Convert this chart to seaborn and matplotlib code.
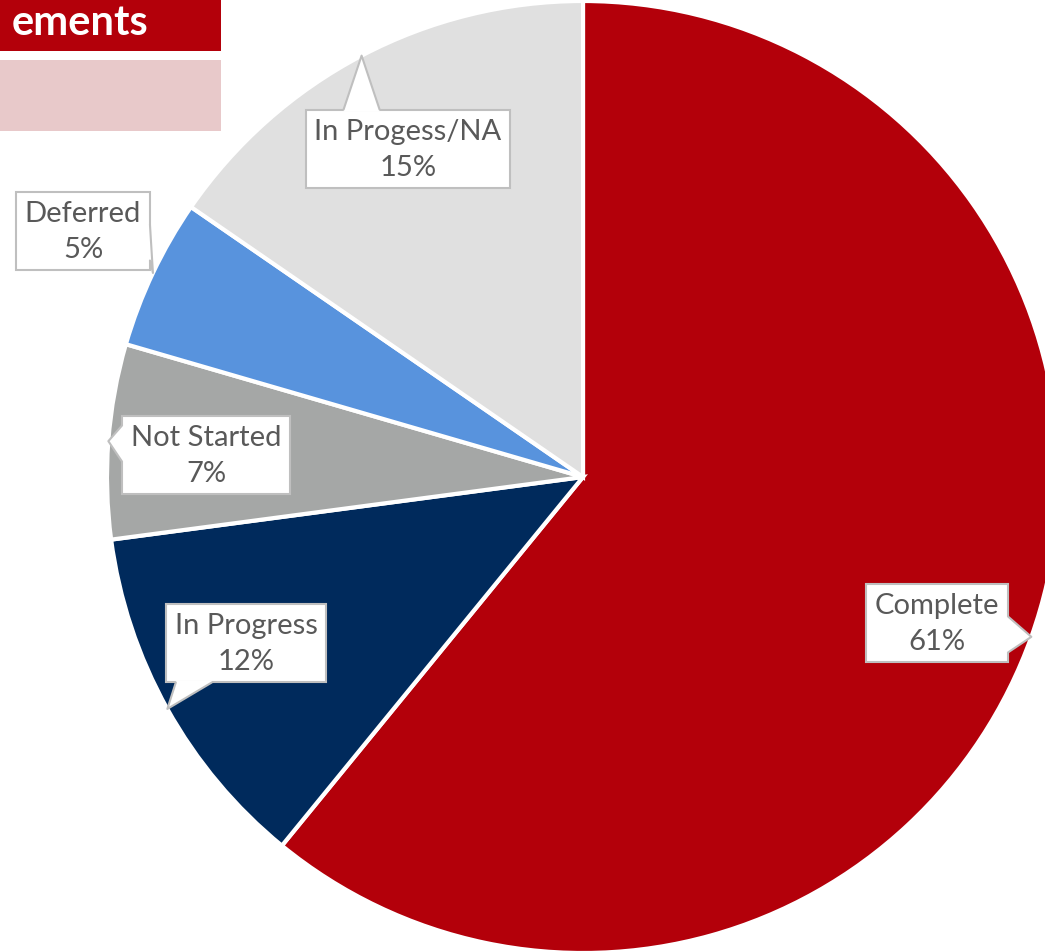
import numpy as np
import matplotlib
matplotlib.use("Agg")
import matplotlib.pyplot as plt
import matplotlib.patches as mpatches
import seaborn as sns

# --- datos ---
categorias = ["Complete", "In Progress", "Not Started", "Deferred", "In Progess/NA"]
porcentajes = [60.9, 12.0, 6.6, 5.1, 15.4]
colores = ["#B3000A", "#002A5C", "#A5A7A6", "#5893DD", "#E0E0E0"]
titulo = "ements"

# posiciones de las cajas de etiqueta (pixeles de la imagen)
pos_etiquetas = [(937, 624), (246, 644), (206, 456), (83, 232), (408, 150)]

sns.set_style("white")
plt.rcParams["font.family"] = ["Lato", "DejaVu Sans"]

W, H = 1045, 953
fig = plt.figure(figsize=(W / 100, H / 100), dpi=100)
ax = fig.add_axes([0, 0, 1, 1])

cx, cy, r = 583, H - 478, 476
wedges, _ = ax.pie(porcentajes, colors=colores, startangle=90, counterclock=False,
                   center=(cx, cy), radius=r, frame=True,
                   wedgeprops=dict(edgecolor="white", linewidth=3))
ax.set_xlim(0, W)
ax.set_ylim(0, H)
ax.set_aspect("equal")
ax.axis("off")

# --- etiquetas tipo globo ---
borde = "#BFBFBF"
textos, puntas = [], []
for w, cat, p, (lx, ly) in zip(wedges, categorias, porcentajes, pos_etiquetas):
    ang = np.deg2rad((w.theta1 + w.theta2) / 2)
    puntas.append((cx + r * np.cos(ang), cy + r * np.sin(ang)))
    t = ax.text(lx, H - ly, f"{cat}\n{round(p)}%", ha="center", va="center",
                fontsize=21, color="#595959", linespacing=1.45, zorder=5,
                bbox=dict(boxstyle="square,pad=0.3", fc="white", ec=borde, lw=1.5))
    textos.append(t)

# el piquito del globo: triangulo desde el borde de la caja hasta el pastel
fig.canvas.draw()
inv = ax.transData.inverted()
hw, margen = 18, 10
for t, (tx, ty) in zip(textos, puntas):
    ext = t.get_bbox_patch().get_window_extent()
    (x0, y0), (x1, y1) = inv.transform([[ext.x0, ext.y0], [ext.x1, ext.y1]])
    if tx < x0 or tx > x1:
        ex = x0 if tx < x0 else x1
        c = np.clip(ty, y0 + hw + margen, y1 - hw - margen)
        a, b = (ex, c - hw), (ex, c + hw)
        d = 2 if tx < x0 else -2
        a_in, b_in = (ex + d, c - hw), (ex + d, c + hw)
    else:
        ey = y0 if ty < y0 else y1
        c = np.clip(tx, x0 + hw + margen, x1 - hw - margen)
        a, b = (c - hw, ey), (c + hw, ey)
        d = 2 if ty < y0 else -2
        a_in, b_in = (c - hw, ey + d), (c + hw, ey + d)
    ax.add_patch(mpatches.Polygon([a_in, a, (tx, ty), b, b_in], closed=True,
                                  fc="white", ec="none", zorder=6))
    ax.plot([a[0], tx, b[0]], [a[1], ty, b[1]], color=borde, lw=1.5, zorder=7)

# --- encabezado ---
fig.patches.append(mpatches.Rectangle((0, 1 - 52 / H), 221 / W, 52 / H,
                                      transform=fig.transFigure, fc="#B3000A", ec="none"))
fig.patches.append(mpatches.Rectangle((0, 1 - 132 / H), 221 / W, 71 / H,
                                      transform=fig.transFigure, fc="#E8C9CA", ec="none"))
fig.text(148 / W, 1 - 35 / H, titulo, ha="right", va="baseline", color="white",
         fontsize=30, fontweight="bold")

fig.savefig("out.png", dpi=100)
